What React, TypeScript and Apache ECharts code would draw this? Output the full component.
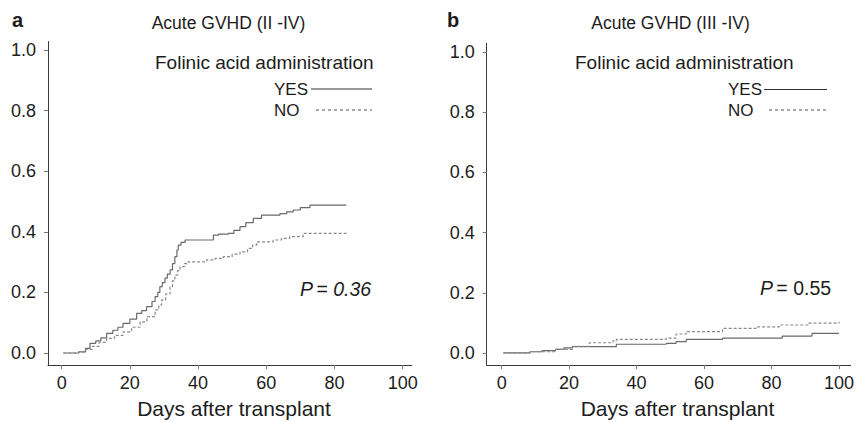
import React, { useEffect, useRef } from "react";
import * as echarts from "echarts";

// ---- Data ----
const xTicks = [0, 20, 40, 60, 80, 100];
const yTicks = [0, 0.2, 0.4, 0.6, 0.8, 1.0];

// Panel a: Acute GVHD (II-IV)
const aYesDays = [0.5, 5, 7, 8.3, 10, 11.5, 13.2, 15, 16.5, 18, 20, 22, 23.5, 24.9, 26.5, 27.4, 28.2, 28.8, 29.5, 30.3, 31, 31.8, 32.5, 33.2, 33.8, 34.2, 35, 36.2, 44.5, 46, 48.9, 50.5, 52.3, 54, 56.2, 58.6, 64, 66, 67.9, 70, 72.8, 83.5];
const aYesVals = [0, 0.004, 0.015, 0.032, 0.04, 0.05, 0.065, 0.075, 0.085, 0.098, 0.112, 0.131, 0.14, 0.153, 0.17, 0.186, 0.2, 0.219, 0.232, 0.247, 0.26, 0.274, 0.295, 0.318, 0.34, 0.356, 0.365, 0.373, 0.389, 0.392, 0.395, 0.405, 0.417, 0.43, 0.444, 0.455, 0.46, 0.466, 0.472, 0.48, 0.488, 0.488];
const aNoDays = [0.5, 5, 7, 9, 11, 13.2, 15.5, 18, 20.5, 23, 25, 27.4, 28.5, 29.3, 30.5, 31.8, 32.5, 33.2, 34, 34.7, 36, 37.1, 42.5, 45, 47.4, 50, 52.3, 54.5, 56, 57.2, 62, 64.5, 66.9, 70.8, 83.5];
const aNoVals = [0, 0.004, 0.012, 0.022, 0.035, 0.048, 0.058, 0.07, 0.085, 0.103, 0.12, 0.142, 0.158, 0.175, 0.195, 0.219, 0.238, 0.257, 0.272, 0.285, 0.295, 0.301, 0.307, 0.312, 0.318, 0.326, 0.334, 0.345, 0.356, 0.367, 0.373, 0.378, 0.384, 0.395, 0.395];

// Panel b: Acute GVHD (III-IV)
const bYesDays = [0.5, 5, 8.4, 12, 16, 18.5, 21, 34, 48.8, 51.7, 54.7, 65.5, 83.2, 92, 100];
const bYesVals = [0, 0, 0.004, 0.008, 0.012, 0.017, 0.021, 0.029, 0.032, 0.038, 0.045, 0.049, 0.056, 0.065, 0.065];
const bNoDays = [0.5, 8.4, 16, 21, 26, 33, 34, 48.8, 51.7, 54.7, 65.5, 75.4, 82.3, 91, 100];
const bNoVals = [0, 0.004, 0.012, 0.022, 0.034, 0.04, 0.045, 0.049, 0.063, 0.071, 0.082, 0.087, 0.093, 0.099, 0.104];

const FONT = "'Liberation Sans', Arial, Helvetica, sans-serif";
const TXT = "#1c1c1c";

const zip = (d: number[], v: number[]) => d.map((x, i) => [x, v[i]]);

function xAxisCfg(grid: number, min: number, max: number) {
  return {
    type: "value",
    gridIndex: grid,
    min,
    max,
    axisLine: { onZero: false, lineStyle: { color: "#3a3a3a", width: 1 } },
    axisTick: { show: true, customValues: xTicks, length: 4, inside: false, lineStyle: { color: "#777" } },
    axisLabel: {
      customValues: xTicks,
      margin: 9,
      color: TXT,
      fontSize: 18,
      lineHeight: 18,
      fontFamily: FONT,
      formatter: (v: number) => String(v),
    },
    splitLine: { show: false },
  };
}

function yAxisCfg(grid: number, min: number, max: number) {
  return {
    type: "value",
    gridIndex: grid,
    min,
    max,
    axisLine: { show: true, onZero: false, lineStyle: { color: "#3a3a3a", width: 1 } },
    axisTick: { show: true, customValues: yTicks, length: 4, lineStyle: { color: "#777" } },
    axisLabel: {
      customValues: yTicks,
      margin: 12,
      color: TXT,
      fontSize: 18,
      fontFamily: FONT,
      formatter: (v: number) => v.toFixed(1),
    },
    splitLine: { show: false },
  };
}

function txt(text: string, x: number, y: number, size: number, align = "left", weight = "normal", style = "normal") {
  return {
    type: "text",
    x,
    y,
    style: {
      text,
      fill: TXT,
      font: `${style} ${weight} ${size}px ${FONT}`,
      textAlign: align,
      textVerticalAlign: "middle",
    },
  };
}

function legendLine(x1: number, x2: number, y: number, dashed: boolean) {
  return {
    type: "line",
    shape: { x1, y1: y, x2, y2: y },
    style: { stroke: dashed ? "#555" : "#333", lineWidth: 1, lineDash: dashed ? [3, 3] : null },
  };
}

export default function App() {
  const ref = useRef<HTMLDivElement>(null);
  useEffect(() => {
    if (!ref.current) return;
    const chart = echarts.init(ref.current, undefined, { renderer: "svg" });
    const yesStyle = { color: "#6a6a6a", width: 1.2, type: "solid" as const };
    const noStyle = { color: "#8a8a8a", width: 1.2, type: [3, 2] as any };
    chart.setOption({
      animation: false,
      backgroundColor: "#ffffff",
      grid: [
        { left: 48, top: 41.5, width: 363.7, height: 323.5 },
        { left: 486.7, top: 43.3, width: 365, height: 321.7 },
      ],
      xAxis: [xAxisCfg(0, -4, 102.65), xAxisCfg(1, -4.43, 103.45)],
      yAxis: [yAxisCfg(0, -0.0396, 1.028), yAxisCfg(1, -0.04, 1.029)],
      series: [
        { type: "line", name: "YES", xAxisIndex: 0, yAxisIndex: 0, step: "end", showSymbol: false, data: zip(aYesDays, aYesVals), lineStyle: yesStyle },
        { type: "line", name: "NO", xAxisIndex: 0, yAxisIndex: 0, step: "end", showSymbol: false, data: zip(aNoDays, aNoVals), lineStyle: noStyle },
        { type: "line", name: "YES", xAxisIndex: 1, yAxisIndex: 1, step: "end", showSymbol: false, data: zip(bYesDays, bYesVals), lineStyle: yesStyle },
        { type: "line", name: "NO", xAxisIndex: 1, yAxisIndex: 1, step: "end", showSymbol: false, data: zip(bNoDays, bNoVals), lineStyle: noStyle },
      ],
      graphic: [
        txt("a", 12, 20, 20, "left", "bold"),
        txt("Acute GVHD (II -IV)", 228.5, 23, 17.5, "center"),
        txt("Folinic acid administration", 155, 62, 19),
        txt("YES", 274, 89, 17),
        legendLine(311, 372, 89, false),
        txt("NO", 274, 110, 17),
        legendLine(316, 372, 110, true),
        {
          type: "text",
          x: 300,
          y: 289,
          style: {
            text: "{p|P} {r|= 0.36}",
            textVerticalAlign: "middle",
            rich: {
              p: { fontFamily: FONT, fontSize: 19.5, fontStyle: "italic", fill: TXT },
              r: { fontFamily: FONT, fontSize: 19.5, fontStyle: "italic", fill: TXT },
            },
          },
        },
        txt("Days after transplant", 234, 408, 21, "center"),

        txt("b", 447, 20, 20, "left", "bold"),
        txt("Acute GVHD (III -IV)", 670.5, 23, 17.5, "center"),
        txt("Folinic acid administration", 575, 62, 19),
        txt("YES", 728, 89.5, 17),
        legendLine(764, 827, 89.5, false),
        txt("NO", 728, 110, 17),
        legendLine(769, 827, 110, true),
        {
          type: "text",
          x: 760,
          y: 288,
          style: {
            text: "{p|P} {r|= 0.55}",
            textVerticalAlign: "middle",
            rich: {
              p: { fontFamily: FONT, fontSize: 19.5, fontStyle: "italic", fill: TXT },
              r: { fontFamily: FONT, fontSize: 19.5, fill: TXT },
            },
          },
        },
        txt("Days after transplant", 677.5, 408, 21, "center"),
      ],
    });
    return () => chart.dispose();
  }, []);
  return (
    <div
      ref={ref}
      style={{ position: "fixed", left: 0, top: 0, width: 857, height: 422, background: "#fff" }}
    />
  );
}
